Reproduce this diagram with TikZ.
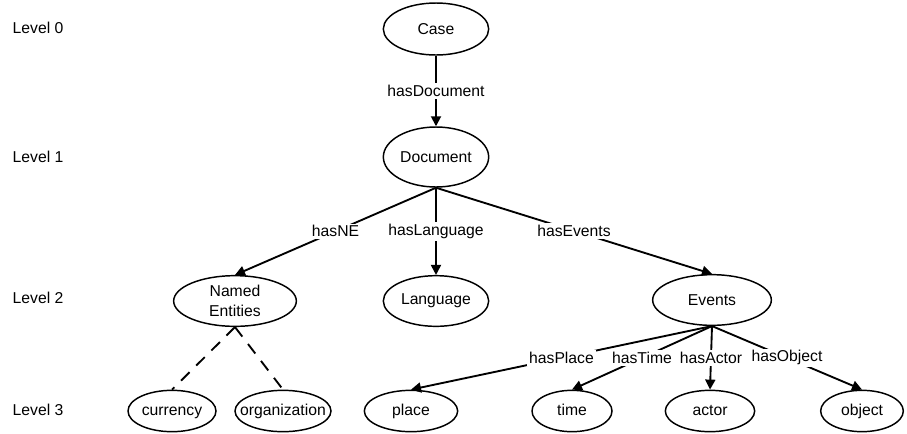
\documentclass[tikz,border=0pt]{standalone}
\usepackage{fontspec}
\setmainfont{Liberation Sans}
\usetikzlibrary{shapes,arrows.meta,positioning}

\begin{document}
\begin{tikzpicture}[x=0.75pt,y=-0.75pt]
  \tikzstyle{concept}=[ellipse, draw, line width=1.1pt, inner sep=0pt, minimum height=38pt, align=center, font=\fontsize{11.8}{14.5}\selectfont]
  \tikzstyle{leaf}=[concept, minimum height=31pt, text height=8.6pt, text depth=2.6pt]
  \tikzstyle{level}=[anchor=west, font=\fontsize{11.8}{14}\selectfont]
  \tikzstyle{rel}=[-{Triangle[length=7.5pt,width=7.5pt]}, line width=1.4pt]
  \tikzstyle{part}=[line width=1.4pt, dash pattern=on 9pt off 7pt]
  \tikzstyle{lbl}=[fill=white, inner sep=1.5pt, font=\fontsize{11.8}{14}\selectfont]
  \useasboundingbox (0,0) rectangle (907,433);

  % levels
  \node[level] (l0) at (8,28) {Level 0};
  \node[level] (l1) at (8,157) {Level 1};
  \node[level] (l2) at (8,298) {Level 2};
  \node[level] (l3) at (8,410) {Level 3};

  % concepts
  \node[concept, minimum width=79pt, minimum height=39pt] (case) at (436,29) {Case};
  \node[concept, minimum width=79pt, minimum height=45pt] (doc) at (436,157) {Document};
  \node[concept, minimum width=92pt] (ne) at (235,301) {Named\\Entities};
  \node[concept, minimum width=79pt] (lang) at (436,301) {Language};
  \node[concept, minimum width=89pt] (ev) at (712,300) {Events};

  % leaves
  \node[leaf, minimum width=66pt] (cur) at (172,411) {currency};
  \node[leaf, minimum width=72pt, inner xsep=-10pt] (org) at (283,411) {organization};
  \node[leaf, minimum width=70pt] (place) at (411,411) {place};
  \node[leaf, minimum width=60pt] (time) at (572,411) {time};
  \node[leaf, minimum width=67pt] (actor) at (710,411) {actor};
  \node[leaf, minimum width=62pt] (obj) at (862,411) {object};

  % relations
  \draw[rel] (case) -- node[lbl] {hasDocument} (doc);
  \draw[rel] (doc.south) -- node[lbl] {hasNE} (ne.north);
  \draw[rel] (doc.south) -- node[lbl] {hasLanguage} (lang.north);
  \draw[rel] (doc.south) -- node[lbl] {hasEvents} (ev.north);
  \draw[rel] (ev.south) -- node[lbl] {hasPlace} (place.north);
  \draw[rel] (ev.south) -- node[lbl] {hasTime} (time.north);
  \draw[rel] (ev.south) -- node[lbl] {hasActor} (actor.north);
  \draw[rel] (ev.south) -- node[lbl] {hasObject} (obj.north);

  % named entity kinds
  \draw[part] (ne.south) -- (cur.north);
  \draw[part] (ne.south) -- (org.north);
\end{tikzpicture}
\end{document}
